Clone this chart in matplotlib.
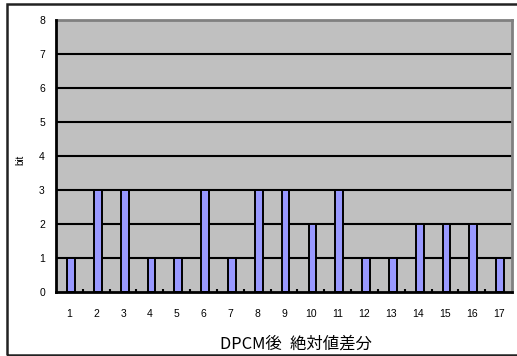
import numpy as np
import matplotlib.pyplot as plt
from matplotlib.patches import Rectangle

plt.rcParams['font.family'] = ['Liberation Sans', 'Noto Sans CJK JP', 'DejaVu Sans']

# absolute difference categories after DPCM and the bits needed for each
categories = list(range(1, 18))
bits = [1, 3, 3, 1, 1, 3, 1, 3, 3, 2, 3, 1, 1, 2, 2, 2, 1]
yticks = list(range(0, 9))

fig = plt.figure(figsize=(5.17, 3.56), dpi=100)

# outer frame around the chart
fig.patches.append(Rectangle((7 / 517, 1 / 356), 1.2, (352 - 1) / 356, transform=fig.transFigure,
                             fill=False, edgecolor='#222222', linewidth=1.8))

ax = fig.add_axes([56 / 517, 64 / 356, 456 / 517, 272 / 356])
ax.set_facecolor('#C0C0C0')

for y in yticks[1:8]:
    ax.axhline(y, color='black', linewidth=1.5, zorder=1)

x = np.array(categories, dtype=float)
ax.bar(x + 0.06, bits, width=0.29, color='#9999FF', edgecolor='black', linewidth=1.4, zorder=2)

ax.set_xlim(0.5, 17.5)
ax.set_ylim(0, 8)
ax.set_yticks(yticks)
ax.set_xticks(categories)
ax.set_xticks(np.arange(1.5, 17.5, 1.0), minor=True)
ax.tick_params(axis='x', which='major', length=0, labelsize=7.5, pad=12)
ax.tick_params(axis='x', which='minor', length=2.5, width=1.5, direction='in', color='black')
ax.tick_params(axis='y', length=0, labelsize=7.5, pad=8)

for side in ['left', 'bottom']:
    ax.spines[side].set_color('black')
    ax.spines[side].set_linewidth(2)
    ax.spines[side].set_zorder(3)
for side in ['top', 'right']:
    ax.spines[side].set_color('#808080')
    ax.spines[side].set_linewidth(2)

ax.set_ylabel('bit', fontsize=7)
ax.yaxis.set_label_coords(-0.068, 0.485)

fig.text(296 / 517, 12 / 356, 'DPCM後\u2002絶対値差分', fontsize=11.8, ha='center', va='center',
         family=['Noto Sans CJK JP', 'DejaVu Sans'])

fig.savefig('out.png', dpi=100)
